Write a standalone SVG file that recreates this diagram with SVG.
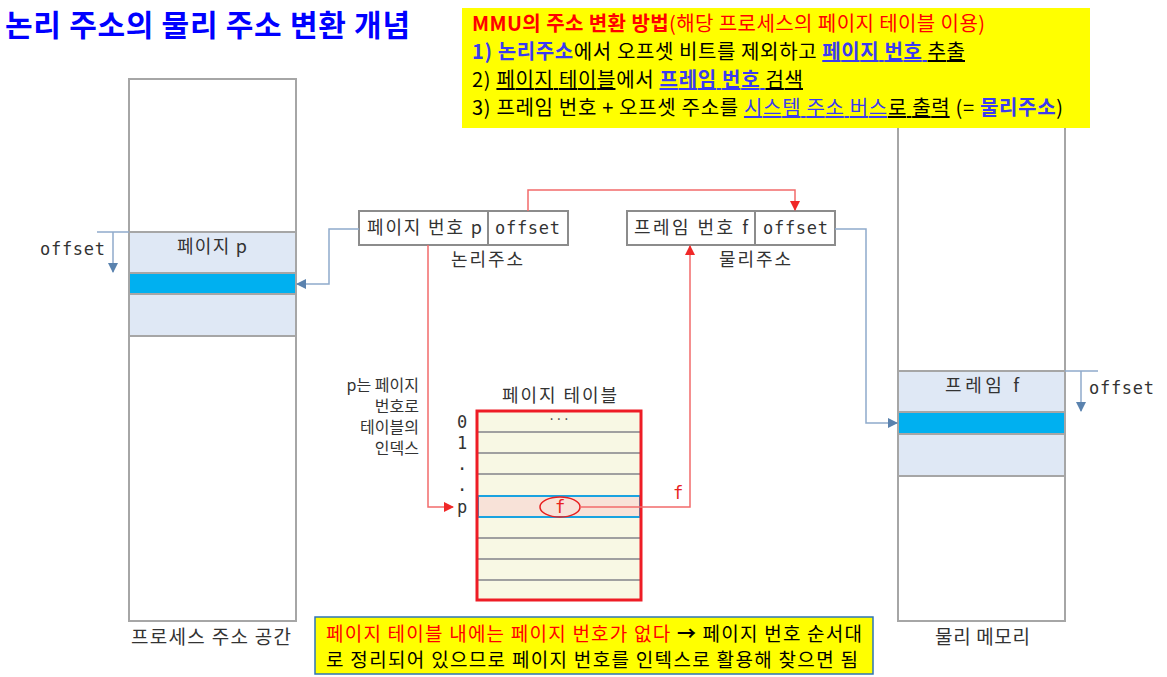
<svg xmlns="http://www.w3.org/2000/svg" width="1167" height="677" viewBox="0 0 1167 677">
<defs>
<style>
.kr{font-family:"Noto Sans CJK KR","Liberation Sans",sans-serif;}
.mono{font-family:"DejaVu Sans Mono","Liberation Mono","Noto Sans CJK KR",monospace;}
.col{fill:#fff;stroke:#A6A6A6;stroke-width:2;}
.sec{fill:#DFE8F5;stroke:#A6A6A6;stroke-width:2;}
.cyan{fill:#00B0F0;stroke:#A6A6A6;stroke-width:2;}
.box{fill:#fff;stroke:#8C8C8C;stroke-width:2;}
.lbl{font-size:18px;fill:#333;}
.bl{fill:none;stroke:#8FAACB;stroke-width:1.5;}
.rd{fill:none;stroke:#F26B6B;stroke-width:1.5;}
.row{stroke:#A0A0A0;stroke-width:2;}
.u{text-decoration:underline;}
</style>
<marker id="ab" markerWidth="10" markerHeight="10" refX="9" refY="5" orient="auto" markerUnits="userSpaceOnUse"><path d="M0,0 L10,5 L0,10 z" fill="#5A82AE"/></marker>
<marker id="ar" markerWidth="10" markerHeight="10" refX="9" refY="5" orient="auto" markerUnits="userSpaceOnUse"><path d="M0,0 L10,5 L0,10 z" fill="#F02828"/></marker>
</defs>
<rect width="1167" height="677" fill="#fff"/>

<text x="5" y="36" class="kr" font-size="30" font-weight="bold" fill="#0000FF" textLength="405" lengthAdjust="spacing">논리 주소의 물리 주소 변환 개념</text>

<g id="process-space">
<rect x="129" y="79" width="167" height="542" class="col"/>
<rect x="129" y="232" width="167" height="41" class="sec"/>
<rect x="129" y="273" width="167" height="21" class="cyan"/>
<rect x="129" y="294" width="167" height="42" class="sec"/>
<text x="177" y="253" class="kr lbl" textLength="70" lengthAdjust="spacing">페이지 p</text>
<text x="131" y="644" class="kr" font-size="19" fill="#333" textLength="160" lengthAdjust="spacing">프로세스 주소 공간</text>
<line x1="97" y1="232" x2="129" y2="232" class="bl"/>
<line x1="113" y1="232" x2="113" y2="272" class="bl" marker-end="url(#ab)"/>
<text x="40" y="255" class="mono" font-size="17" fill="#333" textLength="65" lengthAdjust="spacing">offset</text>
</g>

<g id="physical-memory">
<rect x="898" y="79" width="167" height="542" class="col"/>
<rect x="898" y="371" width="167" height="41" class="sec"/>
<rect x="898" y="412" width="167" height="22" class="cyan"/>
<rect x="898" y="434" width="167" height="42" class="sec"/>
<text x="945" y="392" class="kr lbl" textLength="74" lengthAdjust="spacing">프레임 f</text>
<text x="935" y="644" class="kr" font-size="19" fill="#333" textLength="95" lengthAdjust="spacing">물리 메모리</text>
<line x1="1065" y1="371" x2="1098" y2="371" class="bl"/>
<line x1="1081" y1="371" x2="1081" y2="411" class="bl" marker-end="url(#ab)"/>
<text x="1089" y="394" class="mono" font-size="17" fill="#333" textLength="65" lengthAdjust="spacing">offset</text>
</g>

<g id="logical-address">
<rect x="359" y="211" width="209" height="34" class="box"/>
<line x1="488" y1="211" x2="488" y2="245" stroke="#8C8C8C" stroke-width="2"/>
<text x="367" y="234" class="kr lbl" textLength="115" lengthAdjust="spacing">페이지 번호 p</text>
<text x="495" y="234" class="mono" font-size="17" fill="#333" textLength="65" lengthAdjust="spacing">offset</text>
<text x="451" y="266" class="kr lbl" textLength="72" lengthAdjust="spacing">논리주소</text>
</g>

<g id="physical-address">
<rect x="627" y="211" width="208" height="34" class="box"/>
<line x1="755" y1="211" x2="755" y2="245" stroke="#8C8C8C" stroke-width="2"/>
<text x="634" y="234" class="kr lbl" textLength="114" lengthAdjust="spacing">프레임 번호 f</text>
<text x="763" y="234" class="mono" font-size="17" fill="#333" textLength="65" lengthAdjust="spacing">offset</text>
<text x="719" y="266" class="kr lbl" textLength="72" lengthAdjust="spacing">물리주소</text>
</g>

<g id="page-table">
<text x="502" y="402" class="kr lbl" textLength="115" lengthAdjust="spacing">페이지 테이블</text>
<rect x="477" y="411" width="164" height="189" fill="#F8F8E4"/>
<line x1="477" y1="432" x2="641" y2="432" class="row"/>
<line x1="477" y1="453" x2="641" y2="453" class="row"/>
<line x1="477" y1="474" x2="641" y2="474" class="row"/>
<line x1="477" y1="517" x2="641" y2="517" class="row"/>
<line x1="477" y1="538" x2="641" y2="538" class="row"/>
<line x1="477" y1="559" x2="641" y2="559" class="row"/>
<line x1="477" y1="580" x2="641" y2="580" class="row"/>
<rect x="478" y="496" width="162" height="21" fill="#F8E2D8" stroke="#1AA3E0" stroke-width="2"/>
<rect x="477" y="411" width="164" height="189" fill="none" stroke="#EE1C25" stroke-width="3"/>
<text x="559" y="424" text-anchor="middle" class="kr" font-size="13" fill="#333">···</text>
<ellipse cx="560" cy="507" rx="20" ry="10" fill="none" stroke="#E82020" stroke-width="1.5"/>
<text x="560" y="513" text-anchor="middle" class="mono" font-size="17" fill="#E82020">f</text>
<g class="mono" font-size="17" fill="#333" text-anchor="middle">
<text x="462" y="428">0</text>
<text x="462" y="449">1</text>
<text x="462" y="470">.</text>
<text x="462" y="491">.</text>
<text x="462" y="513">p</text>
</g>
<g class="kr" font-size="16" fill="#333" text-anchor="end">
<text x="419" y="391">p는 페이지</text>
<text x="419" y="412">번호로</text>
<text x="419" y="433">테이블의</text>
<text x="419" y="454">인덱스</text>
</g>
</g>

<g id="connectors">
<polyline points="528,211 528,190 795,190 795,210" class="rd" marker-end="url(#ar)"/>
<polyline points="428,245 428,507 453,507" class="rd" marker-end="url(#ar)"/>
<polyline points="580,507 690,507 690,246" class="rd" marker-end="url(#ar)"/>
<text x="673" y="499" class="mono" font-size="17" fill="#E82020">f</text>
<polyline points="359,229 329,229 329,284 297,284" class="bl" marker-end="url(#ab)"/>
<polyline points="835,229 866,229 866,423 897,423" class="bl" marker-end="url(#ab)"/>
</g>

<g id="mmu-note">
<rect x="462" y="8" width="628" height="120" fill="#FFFF00"/>
<g class="kr" font-size="20">
<text x="472" y="31" fill="#FF0000" textLength="513" lengthAdjust="spacing"><tspan font-weight="bold">MMU의 주소 변환 방법</tspan>(해당 프로세스의 페이지 테이블 이용)</text>
<text x="472" y="59" fill="#000" textLength="493" lengthAdjust="spacing"><tspan font-weight="bold" fill="#3B3BF0">1)  논리주소</tspan>에서 오프셋 비트를 제외하고 <tspan class="u" font-weight="bold" fill="#3B3BF0">페이지 번호 </tspan><tspan class="u">추출</tspan></text>
<text x="472" y="87" fill="#000" textLength="331" lengthAdjust="spacing">2)  <tspan class="u">페이지 테이블</tspan>에서 <tspan class="u" font-weight="bold" fill="#3B3BF0">프레임 번호 </tspan><tspan class="u">검색</tspan></text>
<text x="472" y="115" fill="#000" textLength="591" lengthAdjust="spacing">3)  프레임 번호 + 오프셋 주소를 <tspan class="u" fill="#3B3BF0">시스템 주소 버스</tspan><tspan class="u">로 출력</tspan> (= <tspan font-weight="bold" fill="#3B3BF0">물리주소</tspan>)</text>
</g>
</g>

<g id="bottom-note">
<rect x="315" y="617" width="558" height="57" fill="#FFFF00" stroke="#2E75B6" stroke-width="1.5"/>
<g class="kr" font-size="19">
<text x="326" y="641" fill="#FF0000" textLength="536" lengthAdjust="spacing">페이지 테이블 내에는 페이지 번호가 없다 <tspan fill="#000" font-weight="bold">→</tspan><tspan fill="#000"> 페이지 번호 순서대</tspan></text>
<text x="326" y="667" fill="#000" textLength="532" lengthAdjust="spacing">로 정리되어 있으므로 페이지 번호를 인텍스로 활용해 찾으면 됨</text>
</g>
</g>
</svg>
